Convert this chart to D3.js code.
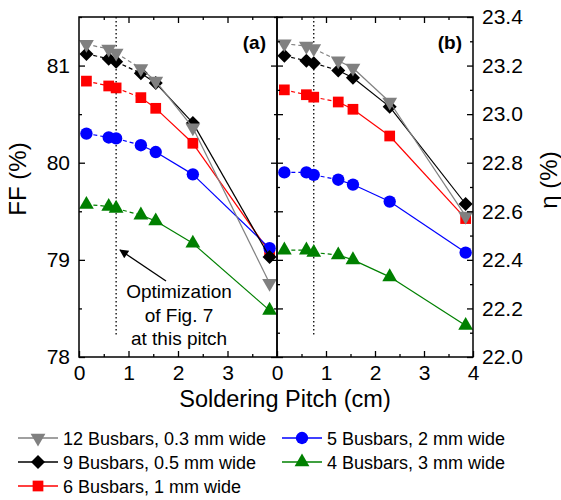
<!DOCTYPE html>
<html>
<head>
<meta charset="utf-8">
<script src="https://cdn.jsdelivr.net/npm/d3@7"></script>
<style>
body { margin: 0; background: #fff; }
text { font-family: "Liberation Sans", Arial, sans-serif; }
</style>
</head>
<body>
<svg id="chart" width="561" height="500"></svg>
<script>
// soldering pitch (cm), same for every series
var pitch = [0.15, 0.6, 0.75, 1.25, 1.55, 2.3, 3.85];

var seriesNames = ["12 Busbars, 0.3 mm wide", "9 Busbars, 0.5 mm wide", "6 Busbars, 1 mm wide",
                   "5 Busbars, 2 mm wide", "4 Busbars, 3 mm wide"];

// fill factor, panel (a)
var ff12 = [81.22, 81.17, 81.13, 80.97, 80.84, 80.36, 78.76];
var ff9  = [81.12, 81.07, 81.04, 80.92, 80.82, 80.41, 79.03];
var ff6  = [80.84, 80.79, 80.77, 80.67, 80.56, 80.20, 79.08];
var ff5  = [80.30, 80.26, 80.25, 80.18, 80.11, 79.88, 79.12];
var ff4  = [79.57, 79.55, 79.53, 79.46, 79.40, 79.17, 78.48];

// efficiency, panel (b)
var eta12 = [23.29, 23.28, 23.27, 23.22, 23.19, 23.05, 22.58];
var eta9  = [23.24, 23.22, 23.21, 23.18, 23.15, 23.03, 22.63];
var eta6  = [23.10, 23.08, 23.07, 23.05, 23.02, 22.91, 22.57];
var eta5  = [22.76, 22.76, 22.75, 22.73, 22.71, 22.64, 22.43];
var eta4  = [22.44, 22.44, 22.43, 22.42, 22.40, 22.33, 22.13];

var optPitch = 0.75;

var ffTicks = [78, 79, 80, 81];
var etaTicks = [22.0, 22.2, 22.4, 22.6, 22.8, 23.0, 23.2, 23.4];

var style = [
  {color: "#808080", shape: "down"},
  {color: "#000000", shape: "diamond"},
  {color: "#ff0000", shape: "square"},
  {color: "#0000ff", shape: "circle"},
  {color: "#008000", shape: "up"}
];
var drawOrder = [4, 2, 3, 1, 0];

var svg = d3.select("#chart");
var plotTop = 17, plotBottom = 357;

function marker(shape) {
  if (shape === "circle") return {path: d3.symbol(d3.symbolCircle, 120)(), rot: 0};
  if (shape === "square") return {path: d3.symbol(d3.symbolSquare, 115)(), rot: 0};
  if (shape === "diamond") return {path: d3.symbol(d3.symbolSquare, 98)(), rot: 45};
  if (shape === "down") return {path: d3.symbol(d3.symbolTriangle, 95)(), rot: 180};
  return {path: d3.symbol(d3.symbolTriangle, 95)(), rot: 0};
}

function drawPanel(x0, x1, series, yDomain, yMajor, yMinor, label, xLabels, side) {
  var x = d3.scaleLinear().domain([0, 4]).range([x0, x1]);
  var y = d3.scaleLinear().domain(yDomain).range([plotBottom, plotTop]);
  var g = svg.append("g");

  // vertical dotted line
  g.append("line")
    .attr("x1", x(optPitch)).attr("x2", x(optPitch))
    .attr("y1", plotTop).attr("y2", 335)
    .attr("stroke", "#000").attr("stroke-width", 1.3)
    .attr("stroke-dasharray", "1.5,2.5");

  drawOrder.forEach(function(si) {
    var vals = series[si];
    var st = style[si];
    var pts = pitch.map(function(p, i) { return [x(p), y(vals[i])]; });
    for (var i = 0; i < pts.length - 1; i++) {
      g.append("path")
        .attr("d", d3.line()([pts[i], pts[i + 1]]))
        .attr("fill", "none")
        .attr("stroke", st.color)
        .attr("stroke-width", 1.2)
        .attr("stroke-dasharray", i < 3 ? "4,3" : null);
    }
    var m = marker(st.shape);
    g.selectAll(null).data(pts).enter().append("path")
      .attr("d", m.path)
      .attr("transform", function(d) { return "translate(" + d[0] + "," + d[1] + ") rotate(" + m.rot + ")"; })
      .attr("fill", st.color);
  });

  // axes with inward ticks
  var ax = [];
  ax.push(g.append("g").attr("transform", "translate(0," + plotBottom + ")")
    .call(d3.axisBottom(x).tickValues(xLabels).tickSize(-6).tickPadding(8).tickFormat(d3.format("d"))));
  ax.push(g.append("g").attr("transform", "translate(0," + plotBottom + ")")
    .call(d3.axisBottom(x).tickValues([0.5, 1.5, 2.5, 3.5]).tickSize(-3).tickFormat("")));
  ax.push(g.append("g").attr("transform", "translate(0," + plotTop + ")")
    .call(d3.axisTop(x).tickValues([1, 2, 3]).tickSize(-6).tickFormat("")));
  ax.push(g.append("g").attr("transform", "translate(0," + plotTop + ")")
    .call(d3.axisTop(x).tickValues([0.5, 1.5, 2.5, 3.5]).tickSize(-3).tickFormat("")));

  var yOut = side === "left" ? d3.axisLeft : d3.axisRight;
  var yIn = side === "left" ? d3.axisRight : d3.axisLeft;
  var xOut = side === "left" ? x0 : x1;
  var xIn = side === "left" ? x1 : x0;
  ax.push(g.append("g").attr("transform", "translate(" + xOut + ",0)")
    .call(yOut(y).tickValues(yMajor).tickSize(-6).tickPadding(9)
      .tickFormat(side === "left" ? d3.format("d") : d3.format(".1f"))));
  ax.push(g.append("g").attr("transform", "translate(" + xOut + ",0)")
    .call(yOut(y).tickValues(yMinor).tickSize(-3).tickFormat("")));
  ax.push(g.append("g").attr("transform", "translate(" + xIn + ",0)")
    .call(yIn(y).tickValues(yMajor).tickSize(-6).tickFormat("")));
  ax.push(g.append("g").attr("transform", "translate(" + xIn + ",0)")
    .call(yIn(y).tickValues(yMinor).tickSize(-3).tickFormat("")));

  ax.forEach(function(a) {
    a.select(".domain").remove();
    a.selectAll("line").attr("stroke", "#000").attr("stroke-width", 1.3);
    a.selectAll("text").attr("fill", "#000").style("font-size", "21px")
      .style("font-family", "'Liberation Sans', Arial, sans-serif");
  });

  g.append("rect")
    .attr("x", x0).attr("y", plotTop).attr("width", x1 - x0).attr("height", plotBottom - plotTop)
    .attr("fill", "none").attr("stroke", "#000").attr("stroke-width", 1.5);

  g.append("text")
    .attr("x", x1 - 11).attr("y", 49)
    .attr("text-anchor", "end")
    .style("font-size", "19px").style("font-weight", "bold")
    .text(label);
  return {x: x, y: y};
}

drawPanel(79, 277, [ff12, ff9, ff6, ff5, ff4], [78, 81.5],
  ffTicks, [78.5, 79.5, 80.5, 81.5], "(a)", [0, 1, 2, 3], "left");
drawPanel(277, 473, [eta12, eta9, eta6, eta5, eta4], [22, 23.4],
  etaTicks, [22.1, 22.3, 22.5, 22.7, 22.9, 23.1, 23.3], "(b)", [0, 1, 2, 3, 4], "right");

// annotation
svg.append("defs").append("marker")
  .attr("id", "arrow").attr("viewBox", "0 0 10 10")
  .attr("refX", 9).attr("refY", 5)
  .attr("markerWidth", 11).attr("markerHeight", 9)
  .attr("markerUnits", "userSpaceOnUse")
  .attr("orient", "auto")
  .append("path").attr("d", "M0,0 L10,5 L0,10 Z").attr("fill", "#000");

svg.append("line")
  .attr("x1", 166).attr("y1", 281).attr("x2", 120).attr("y2", 250)
  .attr("stroke", "#000").attr("stroke-width", 1.3)
  .attr("marker-end", "url(#arrow)");

var note = ["Optimization", "of Fig. 7", "at this pitch"];
svg.selectAll(".note").data(note).enter().append("text")
  .attr("class", "note")
  .attr("x", 179)
  .attr("y", function(d, i) { return 298 + i * 23.5; })
  .attr("text-anchor", "middle")
  .style("font-size", "19px")
  .text(function(d) { return d; });

// axis titles
svg.append("text")
  .attr("transform", "translate(26,179) rotate(-90)")
  .attr("text-anchor", "middle")
  .style("font-size", "24px")
  .text("FF (%)");

svg.append("text")
  .attr("transform", "translate(557,180) rotate(-90)")
  .attr("text-anchor", "middle")
  .style("font-size", "24px")
  .text("η (%)");

svg.append("text")
  .attr("x", 285).attr("y", 407)
  .attr("text-anchor", "middle")
  .style("font-size", "23.5px")
  .text("Soldering Pitch (cm)");

// legend
var legPos = [[18, 438], [18, 462], [18, 486], [282, 438], [282, 462]];
var legOrder = [0, 1, 2, 3, 4];
legOrder.forEach(function(si, k) {
  var p = legPos[k];
  var st = style[si];
  var lg = svg.append("g").attr("transform", "translate(" + p[0] + "," + p[1] + ")");
  lg.append("line").attr("x1", 0).attr("x2", 40).attr("y1", 0).attr("y2", 0)
    .attr("stroke", st.color).attr("stroke-width", 1.3);
  var m = marker(st.shape);
  lg.append("path").attr("d", m.path)
    .attr("transform", "translate(20,0) rotate(" + m.rot + ")")
    .attr("fill", st.color);
  lg.append("text").attr("x", 45).attr("y", 7)
    .style("font-size", "18px")
    .text(seriesNames[si]);
});
</script>
</body>
</html>
